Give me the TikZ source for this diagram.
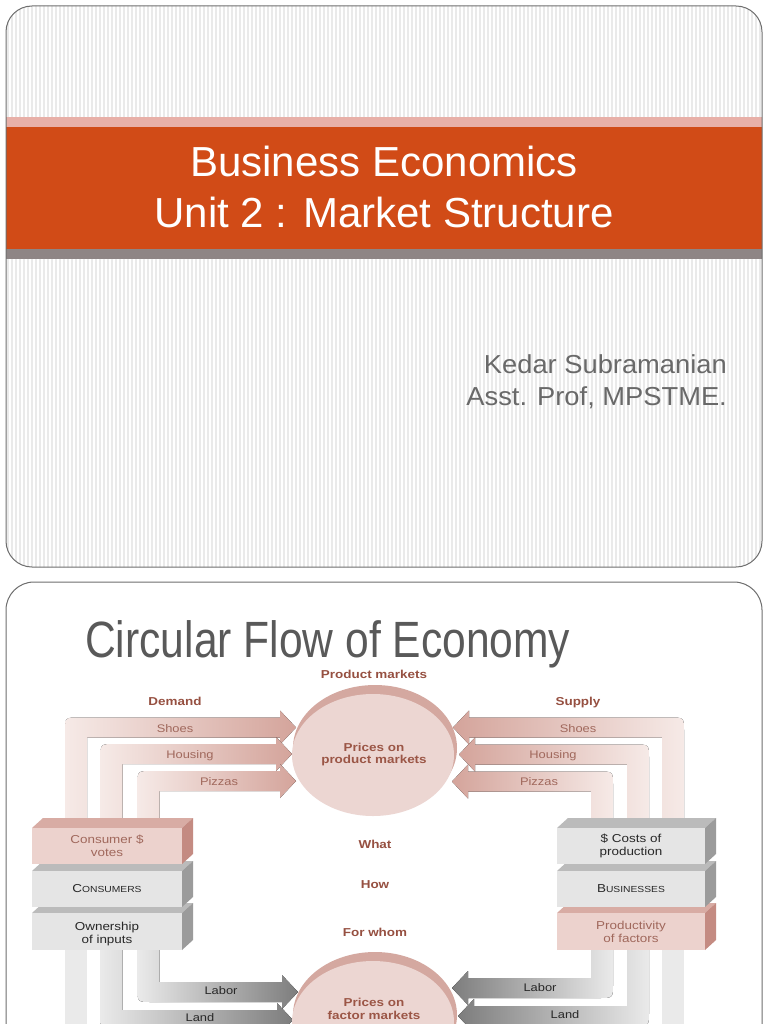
\documentclass[tikz,border=0pt]{standalone}
\usepackage{fontspec}
\setmainfont{Liberation Sans}
\newfontfamily\dg[FakeStretch=1.17]{Liberation Sans}
\newfontfamily\ttlfont[FakeStretch=0.835]{Liberation Sans}
\newfontfamily\subfont[FakeStretch=1.05]{Liberation Sans}
\usetikzlibrary{shapes.geometric}
\definecolor{bandOrange}{RGB}{209,75,23}
\definecolor{bandPink}{RGB}{232,176,168}
\definecolor{bandGray}{RGB}{142,133,133}
\definecolor{stripeGray}{RGB}{234,234,234}
\definecolor{frameGray}{RGB}{110,110,110}
\definecolor{subGray}{RGB}{105,105,105}
\definecolor{titleGray}{RGB}{89,89,89}
\definecolor{brownLab}{RGB}{150,80,65}
\definecolor{brownTxt}{RGB}{160,104,92}
\definecolor{ellTxt}{RGB}{155,86,70}
\definecolor{pinkLight}{RGB}{246,234,231}
\definecolor{pinkDark}{RGB}{212,164,155}
\definecolor{grayLight}{RGB}{234,234,234}
\definecolor{grayDark}{RGB}{125,125,125}
\definecolor{ellBody}{RGB}{236,214,210}
\definecolor{ellRim}{RGB}{212,168,160}
\definecolor{boxPinkF}{RGB}{236,210,205}
\definecolor{boxPinkT}{RGB}{216,172,164}
\definecolor{boxPinkS}{RGB}{196,139,130}
\definecolor{boxGrayF}{RGB}{229,229,229}
\definecolor{boxGrayT}{RGB}{187,187,187}
\definecolor{boxGrayS}{RGB}{155,155,155}
\definecolor{darkTxt}{RGB}{40,40,40}
% flow band: #1 x of vertical part, #2 y of vertical end, #3 y of horizontal part,
% #4 x of tip, #5 +1 if vertical part is below, -1 if above, #6 +1 points right, -1 left, #7 style
\newcommand{\flowband}[7]{%
  \fill[#7] ({#1-(#6)*11},{#2})
    -- ({#1-(#6)*11},{#3-(#5)*10+(#5)*14})
    .. controls ({#1-(#6)*11},{#3-(#5)*10}) .. ({#1-(#6)*11+(#6)*14},{#3-(#5)*10})
    -- ({#4-(#6)*16},{#3-(#5)*10})
    -- ({#4-(#6)*16},{#3-(#5)*17})
    -- ({#4},{#3})
    -- ({#4-(#6)*16},{#3+(#5)*17})
    -- ({#4-(#6)*16},{#3+(#5)*10})
    -- ({#1+(#6)*11},{#3+(#5)*10})
    -- ({#1+(#6)*11},{#2}) -- cycle;}
% slab: #1 x0, #2 x1, #3 top y, #4 bottom y, #5 front, #6 top, #7 side
\newcommand{\slab}[7]{%
  \fill[#6] (#1,#3) -- ({#1+11},{#3-10}) -- ({#2+11},{#3-10}) -- (#2,#3) -- cycle;
  \fill[#7] (#2,#3) -- ({#2+11},{#3-10}) -- ({#2+11},{#4-10}) -- (#2,#4) -- cycle;
  \fill[#5] (#1,#3) rectangle (#2,#4);}
\newcommand{\fsc}[2]{{\fontsize{11.5}{13}\selectfont #1}{\fontsize{8.8}{10}\selectfont #2}}
\begin{document}
\begin{tikzpicture}[x=1pt,y=-1pt,
  txt/.style={inner sep=0pt, anchor=base},
  lab/.style={txt, font=\dg\bfseries\fontsize{11.5}{13}\selectfont, text=brownLab},
  ellab/.style={txt, font=\dg\bfseries\fontsize{11.5}{13}\selectfont, text=ellTxt},
  flowlab/.style={txt, font=\dg\fontsize{11}{13}\selectfont, text=brownTxt},
  factlab/.style={txt, font=\dg\fontsize{11}{13}\selectfont, text=darkTxt},
  boxlab/.style={txt, font=\dg\fontsize{11.5}{13}\selectfont, text=darkTxt},
  boxlabp/.style={boxlab, text=brownTxt},
  pinkR/.style={left color=pinkLight, right color=pinkDark},
  pinkL/.style={left color=pinkDark, right color=pinkLight},
  grayR/.style={left color=grayLight, right color=grayDark},
  grayL/.style={left color=grayDark, right color=grayLight},
  frame/.style={draw=frameGray, line width=1pt}]
\useasboundingbox (0,0) rectangle (768,1024);
\clip (0,0) rectangle (768,1024);
% ---------- slide 1 ----------
\begin{scope}
  \clip[rounded corners=26pt] (6,6) rectangle (762,567);
  \fill[white] (6,6) rectangle (762,567);
  \foreach \i in {0,...,189} {\draw[stripeGray, line width=1.4pt] ({8+4*\i},0) -- ({8+4*\i},570);}
  \fill[bandPink] (0,117) rectangle (768,127);
  \fill[bandOrange] (0,127) rectangle (768,249);
  \fill[bandGray] (0,249) rectangle (768,259);
\end{scope}
\draw[frame, rounded corners=26pt] (6,6) rectangle (762,567);
\node[txt, font=\fontsize{42}{50}\selectfont, text=white] (t1) at (384,177) {Business Economics};
\node[txt, font=\fontsize{42}{50}\selectfont, text=white] (t2) at (384,227) {Unit 2 : Market Structure};
\node[txt, anchor=base east, font=\subfont\fontsize{26}{30}\selectfont, text=subGray] (s1) at (727,373) {Kedar Subramanian};
\node[txt, anchor=base east, font=\subfont\fontsize{26}{30}\selectfont, text=subGray] (s2) at (727,405) {Asst. Prof, MPSTME.};
% ---------- slide 2 ----------
\draw[frame, fill=white, rounded corners=28pt] (6,582) rectangle (762,1070);
\node[txt, anchor=base west, font=\ttlfont\fontsize{51}{58}\selectfont, text=titleGray] (t3) at (85,657) {Circular Flow of Economy};
% demand / supply bands
\flowband{76}{824}{727.5}{296}{1}{1}{pinkR}
\flowband{111.5}{824}{754}{292}{1}{1}{pinkR}
\flowband{148.5}{824}{781}{296}{1}{1}{pinkR}
\flowband{673}{824}{727.5}{453}{1}{-1}{pinkL}
\flowband{638}{824}{754.5}{459}{1}{-1}{pinkL}
\flowband{602}{824}{781.5}{452}{1}{-1}{pinkL}
% factor bands
\flowband{148.5}{946}{992}{298}{-1}{1}{grayR}
\flowband{111.5}{946}{1020}{293}{-1}{1}{grayR}
\fill[grayLight] (65,946) rectangle (87,1030);
\flowband{602}{946}{988}{452}{-1}{-1}{grayL}
\flowband{638}{946}{1016}{458}{-1}{-1}{grayL}
\fill[grayLight] (662,946) rectangle (684,1030);
% stacks
\slab{32}{182}{913}{950}{boxGrayF}{boxGrayT}{boxGrayS}
\slab{32}{182}{871}{907}{boxGrayF}{boxGrayT}{boxGrayS}
\slab{32}{182}{828}{864}{boxPinkF}{boxPinkT}{boxPinkS}
\slab{557}{705}{913}{950}{boxPinkF}{boxPinkT}{boxPinkS}
\slab{557}{705}{871}{907}{boxGrayF}{boxGrayT}{boxGrayS}
\slab{557}{705}{828}{864}{boxGrayF}{boxGrayT}{boxGrayS}
% markets
\node[ellipse, fill=ellRim, minimum width=164pt, minimum height=126pt, inner sep=0pt] (pmrim) at (375,748) {};
\node[ellipse, fill=ellBody, minimum width=162pt, minimum height=122pt, inner sep=0pt] (pm) at (373,755) {};
\node[ellipse, fill=ellRim, minimum width=164pt, minimum height=126pt, inner sep=0pt] (fmrim) at (375,1015) {};
\node[ellipse, fill=ellBody, minimum width=162pt, minimum height=122pt, inner sep=0pt] (fm) at (373,1022) {};
% labels
\node[lab] (pml) at (374,678) {Product markets};
\node[ellab] (pm1) at (374,751) {Prices on};
\node[ellab] (pm2) at (374,763) {product markets};
\node[ellab] (fm1) at (374,1006) {Prices on};
\node[ellab] (fm2) at (374,1019) {factor markets};
\node[lab] (dem) at (175,705) {Demand};
\node[lab] (sup) at (578,705) {Supply};
\node[flowlab] (ls) at (175,732) {Shoes};
\node[flowlab] (lh) at (190,758) {Housing};
\node[flowlab] (lp) at (219,785) {Pizzas};
\node[flowlab] (rs) at (578,732) {Shoes};
\node[flowlab] (rh) at (553,758) {Housing};
\node[flowlab] (rp) at (539,785) {Pizzas};
\node[lab] (what) at (375,848) {What};
\node[lab] (how) at (375,888) {How};
\node[lab] (whom) at (375,936) {For whom};
\node[boxlabp] (cv1) at (107,843) {Consumer \$};
\node[boxlabp] (cv2) at (107,856) {votes};
\node[boxlab] (con) at (107,892) {\fsc{C}{ONSUMERS}};
\node[boxlab] (oi1) at (107,930) {Ownership};
\node[boxlab] (oi2) at (107,943) {of inputs};
\node[boxlab] (cp1) at (631,842) {\$ Costs of};
\node[boxlab] (cp2) at (631,855) {production};
\node[boxlab] (bus) at (631,892) {\fsc{B}{USINESSES}};
\node[boxlabp] (pf1) at (631,929) {Productivity};
\node[boxlabp] (pf2) at (631,942) {of factors};
\node[factlab] (llab) at (221,994) {Labor};
\node[factlab] (llan) at (200,1021) {Land};
\node[factlab] (rlab) at (540,991) {Labor};
\node[factlab] (rlan) at (565,1018) {Land};
\end{tikzpicture}
\end{document}
